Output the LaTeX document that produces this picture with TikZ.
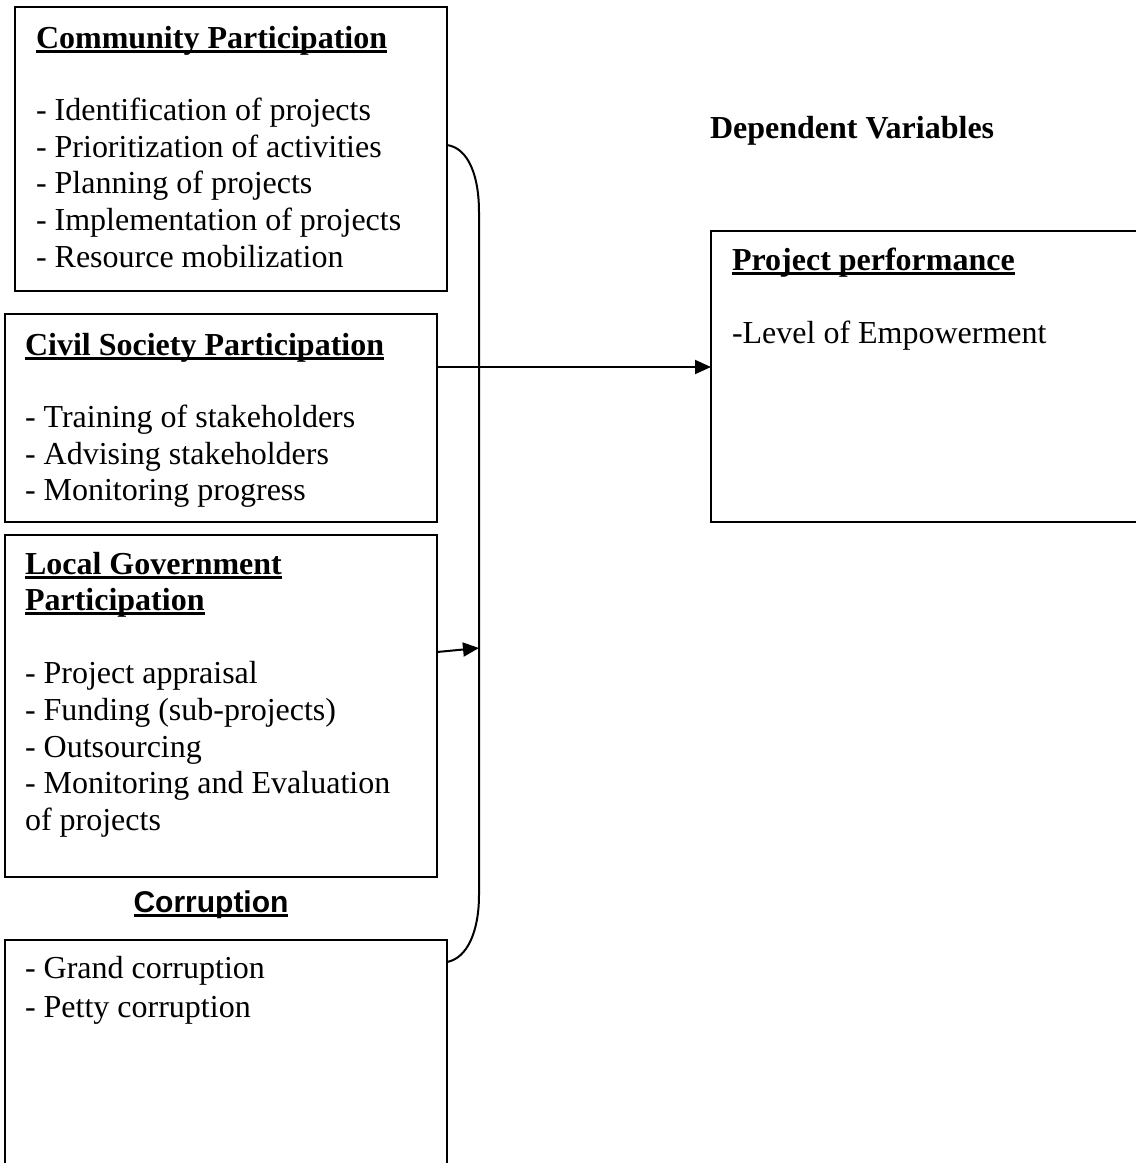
\documentclass[tikz,border=0pt]{standalone}
\usepackage{fontspec}
\setmainfont{Liberation Serif}
\newfontfamily\arialfont{Liberation Sans}
\newcommand\myul[1]{\setbox0\hbox{#1}\rlap{\vrule height -2.2pt depth 5.2pt width \wd0}\box0}
\usetikzlibrary{arrows.meta}
\tikzset{
  box/.style={draw, line width=2pt, rectangle, inner sep=0pt, outer sep=0pt, anchor=north west},
  txt/.style={anchor=base west, inner sep=0pt, outer sep=0pt, font=\fontsize{32}{37}\selectfont},
  ttl/.style={txt, font=\fontsize{32}{37}\selectfont\bfseries},
  arr/.style={line width=2pt, -{Triangle[length=16pt,width=14pt]}},
  brc/.style={line width=2pt}
}
\begin{document}
\begin{tikzpicture}[x=1pt,y=-1pt]
\useasboundingbox (0,0) rectangle (1136,1163);
\clip (0,0) rectangle (1136,1163);
% boxes
\node[box, minimum width=432pt, minimum height=284pt] (cp) at (15,7) {};
\node[box, minimum width=432pt, minimum height=208pt] (cs) at (5,314) {};
\node[box, minimum width=432pt, minimum height=342pt] (lg) at (5,535) {};
\node[box, minimum width=442pt, minimum height=260pt] (co) at (5,940) {};
\node[box, minimum width=440pt, minimum height=291pt] (pp) at (711,231) {};
% community
\node[ttl] (cpt) at (36,48) {\myul{Community Participation}};
\node[txt] (cp1) at (36,120) {- Identification of projects};
\node[txt] (cp2) at (36,157) {- Prioritization of activities};
\node[txt] (cp3) at (36,193) {- Planning of projects};
\node[txt] (cp4) at (36,230) {- Implementation of projects};
\node[txt] (cp5) at (36,267) {- Resource mobilization};
% civil society
\node[ttl] (cst) at (25,355) {\myul{Civil Society Participation}};
\node[txt] (cs1) at (25,427) {- Training of stakeholders};
\node[txt] (cs2) at (25,464) {- Advising stakeholders};
\node[txt] (cs3) at (25,500) {- Monitoring progress};
% local government
\node[ttl] (lgt1) at (25,574) {\myul{Local Government}};
\node[ttl] (lgt2) at (25,610) {\myul{Participation}};
\node[txt] (lg1) at (25,683) {- Project appraisal};
\node[txt] (lg2) at (25,720) {- Funding (sub-projects)};
\node[txt] (lg3) at (25,757) {- Outsourcing};
\node[txt] (lg4) at (25,793) {- Monitoring and Evaluation};
\node[txt] (lg5) at (25,830) {of projects};
% corruption
\node[anchor=base, inner sep=0pt, font=\fontsize{30}{36}\selectfont\arialfont\bfseries] (cot) at (211,912) {\myul{Corruption}};
\node[txt] (co1) at (25,978) {- Grand corruption};
\node[txt] (co2) at (25,1017) {- Petty corruption};
% dependent
\node[ttl] (dv) at (710,138) {Dependent Variables};
\node[ttl] (ppt) at (732,270) {\myul{Project performance}};
\node[txt] (pp1) at (732,343) {-Level of Empowerment};
% brace
\coordinate (bt) at (447,145);
\coordinate (bb) at (447,962);
\coordinate (b1) at (479,212);
\coordinate (b2) at (479,895);
\draw[brc] (bt) .. controls (468,148) and (479,175) .. (b1) -- (b2) .. controls (479,930) and (468,958) .. (bb);
% arrows
\coordinate (a1) at (600,367);
\draw[arr] (cs.east |- a1) -- (pp.west |- a1);
\coordinate (a2s) at (437,652);
\coordinate (a2e) at (479,648);
\draw[arr] (a2s) -- (a2e);
\end{tikzpicture}
\end{document}
